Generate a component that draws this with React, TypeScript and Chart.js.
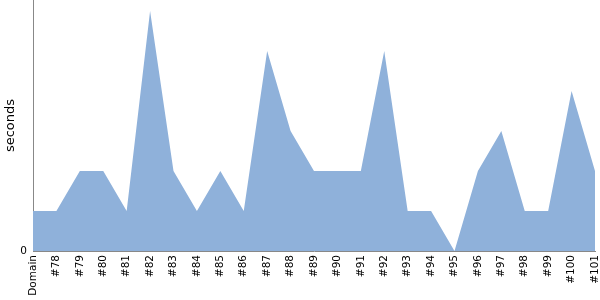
import React, { useEffect, useRef } from "react";
import { Chart, registerables } from "chart.js";

Chart.register(...registerables);

const categories = ["Domain", "#78", "#79", "#80", "#81", "#82", "#83", "#84", "#85", "#86", "#87", "#88", "#89", "#90", "#91", "#92", "#93", "#94", "#95", "#96", "#97", "#98", "#99", "#100", "#101"];
const seconds = [1, 1, 2, 2, 1, 6, 2, 1, 2, 1, 5, 3, 2, 2, 2, 5, 1, 1, 0, 2, 3, 1, 1, 4, 2];
const yTicks = [0];
const yMax = 6.275;

export default function App() {
  const ref = useRef<HTMLCanvasElement>(null);
  useEffect(() => {
    document.body.style.margin = "0";
    const chart = new Chart(ref.current!, {
      type: "line",
      data: {
        labels: categories,
        datasets: [
          {
            data: seconds,
            fill: "origin",
            backgroundColor: "#8fb1da",
            borderColor: "#8fb1da",
            borderWidth: 0,
            pointRadius: 0,
            tension: 0,
          },
        ],
      },
      options: {
        animation: false,
        responsive: false,
        layout: { padding: { top: 0, right: 5, left: 0, bottom: 0 } },
        plugins: { legend: { display: false }, tooltip: { enabled: false } },
        scales: {
          x: {
            offset: false,
            grid: { display: false, drawTicks: false },
            border: { display: true, color: "#888888", width: 1 },
            ticks: {
              autoSkip: false,
              maxRotation: 90,
              minRotation: 90,
              padding: 4,
              color: "#000000",
              font: { family: "DejaVu Sans", size: 10.5 },
            },
            afterFit: (s: any) => {
              s.height = 49;
              s.paddingLeft = 0;
              s.paddingRight = 0;
            },
          },
          y: {
            min: 0,
            max: yMax,
            grid: { display: false, drawTicks: true, tickLength: 4, color: "#888888" },
            border: { display: true, color: "#888888", width: 1 },
            afterBuildTicks: (s: any) => {
              s.ticks = yTicks.map((v) => ({ value: v }));
            },
            ticks: {
              color: "#000000",
              padding: 2,
              font: { family: "DejaVu Sans", size: 10.5 },
            },
            title: {
              display: true,
              text: "seconds",
              color: "#000000",
              padding: { top: 3, bottom: 0 },
              font: { family: "DejaVu Sans", size: 13 },
            },
            afterFit: (s: any) => {
              s.width = 33;
              s.paddingTop = 0;
              s.paddingBottom = 0;
            },
          },
        },
      },
    });
    return () => chart.destroy();
  }, []);
  return (
    <div style={{ width: 600, height: 300 }}>
      <canvas ref={ref} width={600} height={300} />
    </div>
  );
}
